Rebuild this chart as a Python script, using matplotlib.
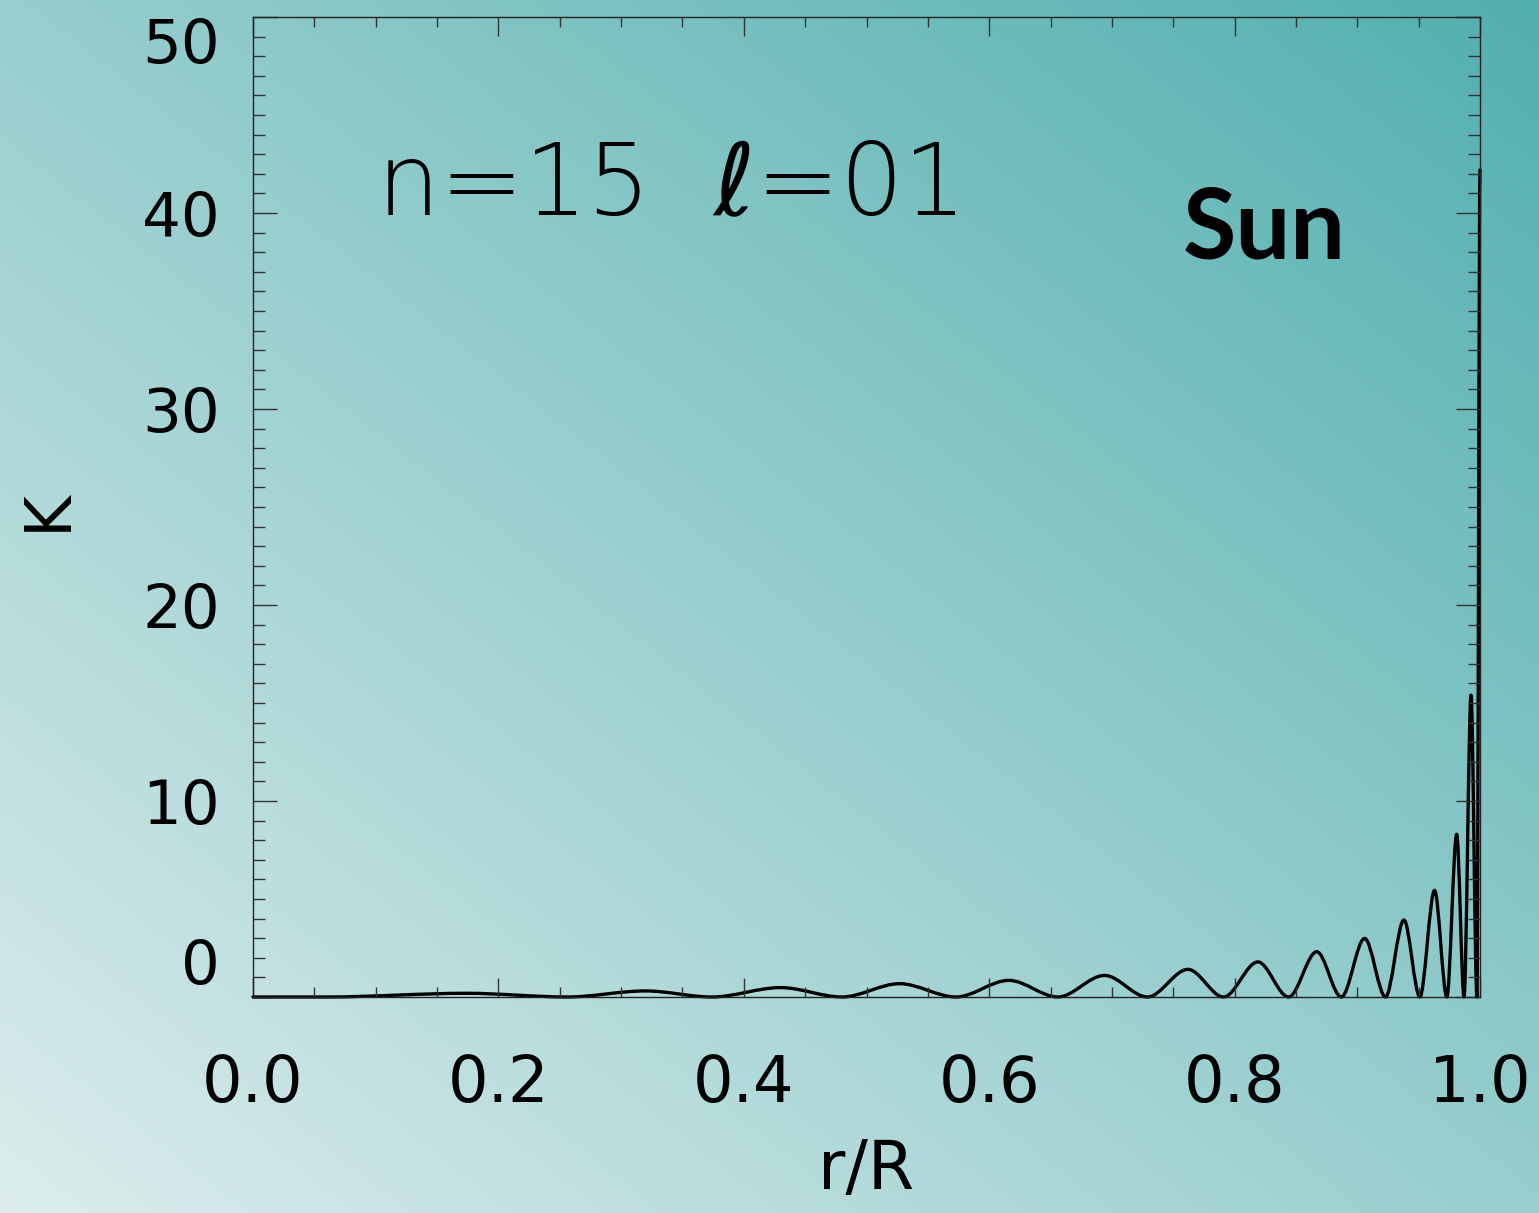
import numpy as np
import matplotlib
matplotlib.use("Agg")
import matplotlib.pyplot as plt
from matplotlib.path import Path
from matplotlib.patches import PathPatch
from matplotlib.colors import to_rgb
from matplotlib.ticker import MultipleLocator

plt.rcParams["mathtext.fontset"] = "dejavusans"

# Kernel K(r/R) for the n=15, l=1 solar p mode: lobes between successive zeros
zero_r = [0.060, 0.256, 0.374, 0.480, 0.573, 0.656, 0.729, 0.791, 0.844,
          0.887, 0.923, 0.951, 0.973, 0.987, 0.9975]
peak_r = [0.174, 0.320, 0.430, 0.527, 0.616, 0.694, 0.762, 0.819, 0.867,
          0.906, 0.938, 0.963, 0.981, 0.9927, 1.000]
peak_k = [0.19, 0.31, 0.48, 0.68, 0.85, 1.10, 1.41, 1.79, 2.31,
          2.99, 3.93, 5.44, 8.30, 15.4, 42.2]

x_ticks = [0.0, 0.2, 0.4, 0.6, 0.8, 1.0]
x_tick_labels = ["0.0", "0.2", "0.4", "0.6", "0.8", "1.0"]
y_ticks = [0, 10, 20, 30, 40, 50]
y_tick_labels = ["0", "10", "20", "30", "40", "50"]

W, H, DPI = 1539, 1213, 100
fig = plt.figure(figsize=(W / DPI, H / DPI), dpi=DPI)

# diagonal teal gradient behind everything
bg = fig.add_axes([0, 0, 1, 1], zorder=-10)
gx, gy = np.meshgrid(np.linspace(0, 1, 400), np.linspace(0, 1, 320))
t = np.clip((gx + gy) / 2.0, 0, 1)[..., None]
c0 = np.array(to_rgb("#dcecec"))
c1 = np.array(to_rgb("#52afaf"))
bg.imshow(c0 + (c1 - c0) * t, origin="lower", extent=[0, 1, 0, 1],
          aspect="auto", interpolation="bilinear")
bg.set_axis_off()

ax_w = (1480 - 253) / W
ax_h = (997 - 17) / H
ax = fig.add_axes([253 / W, 1 - 997 / H, ax_w, ax_h])
ax.set_facecolor("none")
ax.set_xlim(0, 1)
ax.set_ylim(0, 50)

# build the kernel curve as a chain of cubic Bezier lobes
verts = [(0.0, 0.0), (zero_r[0], 0.0)]
codes = [Path.MOVETO, Path.LINETO]
for i in range(len(peak_r)):
    a, p, h = zero_r[i], peak_r[i], peak_k[i]
    verts += [(a + (p - a) / 3, 0.0), (p - (p - a) / 3, h), (p, h)]
    codes += [Path.CURVE4] * 3
    if i + 1 < len(zero_r):
        b = zero_r[i + 1]
        verts += [(p + (b - p) / 3, h), (b - (b - p) / 3, 0.0), (b, 0.0)]
        codes += [Path.CURVE4] * 3
curve = PathPatch(Path(verts, codes), facecolor="none", edgecolor="black",
                  lw=2.4, transform=ax.transData, clip_on=False,
                  joinstyle="round", capstyle="round")
ax.add_patch(curve)

for s in ax.spines.values():
    s.set_color("#222222")
    s.set_linewidth(1.0)

ax.xaxis.set_minor_locator(MultipleLocator(0.05))
ax.yaxis.set_minor_locator(MultipleLocator(1))
ax.set_xticks(x_ticks)
ax.set_xticklabels(x_tick_labels)
ax.set_yticks(y_ticks)
ax.set_yticklabels(y_tick_labels)

ax.tick_params(axis="both", which="both", direction="in", top=True,
               right=True, color="#333333", width=1.0)
ax.tick_params(axis="x", which="major", length=14, pad=40, labelsize=46)
ax.tick_params(axis="x", which="minor", length=7)
ax.tick_params(axis="y", which="major", length=17, pad=24, labelsize=44)
ax.tick_params(axis="y", which="minor", length=8.6)

for lab in ax.get_yticklabels():
    txt = lab.get_text()
    if txt == "50":
        lab.set_va("top")
    elif txt == "0":
        lab.set_va("bottom")

ax.set_xlabel("r/R", fontsize=48)
ax.xaxis.set_label_coords(0.5, -(1203 - 997) / (997 - 17))
ax.xaxis.label.set_va("bottom")
ax.set_ylabel("K", fontsize=46)
ax.yaxis.set_label_coords(-(253 - 48) / (1480 - 253), (997 - 510) / (997 - 17))
ax.yaxis.label.set_va("center")

fig.text(376 / W, 1 - 215 / H, r"n=15  $\ell$=01", fontsize=72,
         family=["DejaVu Sans"], fontweight="light", va="baseline",
         ha="left")
fig.text(1183 / W, 1 - 258 / H, "Sun", fontsize=70,
         family=["Lato", "DejaVu Sans"], fontweight="bold", va="baseline",
         ha="left")

fig.savefig("out.png", dpi=DPI)
